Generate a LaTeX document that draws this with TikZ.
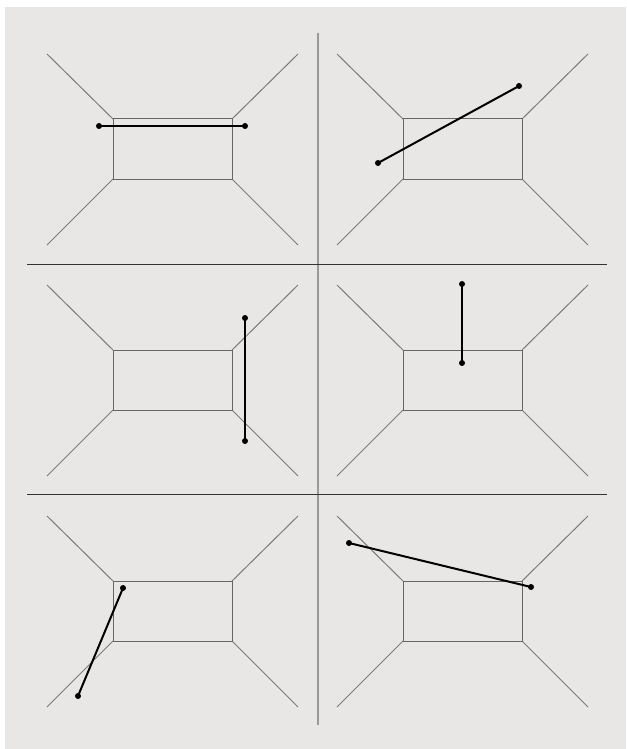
\documentclass[tikz,border=0pt]{standalone}
\usetikzlibrary{positioning}
\definecolor{bggray}{HTML}{E8E7E5}

\begin{document}
\begin{tikzpicture}[x=1pt, y=-1pt,
  wall/.style={draw=black!52, line width=1pt},
  room/.style={draw=black!60, line width=1pt},
  seg/.style={draw=black, line width=2pt},
  dot/.style={circle, fill=black, inner sep=0pt, minimum size=6pt}]
\useasboundingbox (0,0) rectangle (626,749);
\fill[white] (0,0) rectangle (626,749);
\fill[bggray] (5,7) rectangle (626,749);
% dividers
\draw[black!40, line width=1.5pt] (318,33) -- (318,725);
\draw[black!80, line width=0.8pt] (27,264) -- (607,264);
\draw[black!80, line width=0.8pt] (27,494) -- (607,494);
% the six rooms
\foreach \dx in {0,290} {
\foreach \dy in {0,231,462} {
\begin{scope}[shift={(\dx,\dy)}]
\draw[wall] (47,54) -- (113,119) (298,54) -- (232,119)
  (47,245) -- (113,179) (298,245) -- (232,179);
\draw[room] (113,119) rectangle (232,179);
\end{scope}
}
}
% segments
\node[dot] (a1) at (99,126) {};
\node[dot] (a2) at (245,126) {};
\draw[seg] (a1.center) -- (a2.center);
\node[dot] (b1) at (378,163) {};
\node[dot] (b2) at (519,86) {};
\draw[seg] (b1.center) -- (b2.center);
\node[dot] (c1) at (245,318) {};
\node[dot] (c2) at (245,441) {};
\draw[seg] (c1.center) -- (c2.center);
\node[dot] (d1) at (462,284) {};
\node[dot] (d2) at (462,363) {};
\draw[seg] (d1.center) -- (d2.center);
\node[dot] (e1) at (123,588) {};
\node[dot] (e2) at (78,696) {};
\draw[seg] (e1.center) -- (e2.center);
\node[dot] (f1) at (349,543) {};
\node[dot] (f2) at (531,587) {};
\draw[seg] (f1.center) -- (f2.center);
\end{tikzpicture}
\end{document}
